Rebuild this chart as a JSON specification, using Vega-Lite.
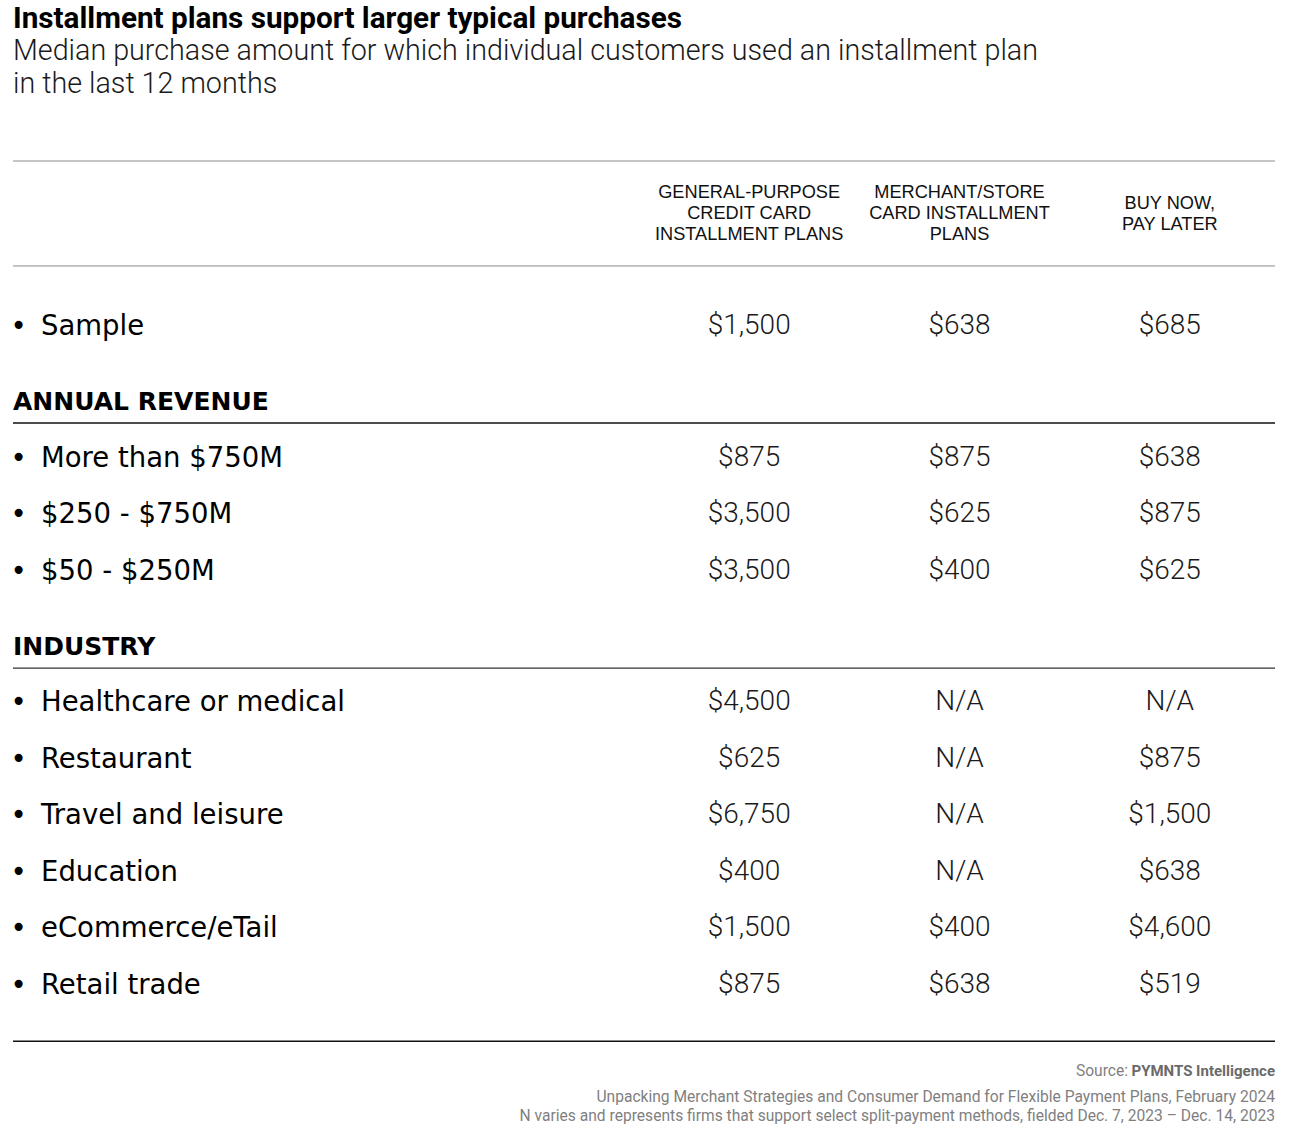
{
  "$schema": "https://vega.github.io/schema/vega-lite/v6.json",
  "autosize": "none",
  "width": 1262,
  "height": 960,
  "padding": {"left": 13, "right": 19, "top": 155.5, "bottom": 26.5},
  "background": "#ffffff",
  "title": {
    "text": "Installment plans support larger typical purchases",
    "subtitle": ["Median purchase amount for which individual customers used an installment plan", "in the last 12 months"],
    "anchor": "start",
    "frame": "group",
    "font": "Roboto",
    "fontSize": 29.7,
    "fontWeight": 700,
    "color": "#000000",
    "subtitleFont": "Roboto",
    "subtitleFontSize": 28.7,
    "subtitleFontWeight": 300,
    "subtitleColor": "#1a1a1a",
    "subtitleLineHeight": 33,
    "subtitlePadding": 2,
    "offset": 56
  },
  "datasets": {
    "values": [
      {"slot": "Sample", "plan": "General-purpose credit card installment plans", "amount": 1500},
      {"slot": "Sample", "plan": "Merchant/store card installment plans", "amount": 638},
      {"slot": "Sample", "plan": "Buy now, pay later", "amount": 685},
      {"slot": "More than $750M", "plan": "General-purpose credit card installment plans", "amount": 875},
      {"slot": "More than $750M", "plan": "Merchant/store card installment plans", "amount": 875},
      {"slot": "More than $750M", "plan": "Buy now, pay later", "amount": 638},
      {"slot": "$250 - $750M", "plan": "General-purpose credit card installment plans", "amount": 3500},
      {"slot": "$250 - $750M", "plan": "Merchant/store card installment plans", "amount": 625},
      {"slot": "$250 - $750M", "plan": "Buy now, pay later", "amount": 875},
      {"slot": "$50 - $250M", "plan": "General-purpose credit card installment plans", "amount": 3500},
      {"slot": "$50 - $250M", "plan": "Merchant/store card installment plans", "amount": 400},
      {"slot": "$50 - $250M", "plan": "Buy now, pay later", "amount": 625},
      {"slot": "Healthcare or medical", "plan": "General-purpose credit card installment plans", "amount": 4500},
      {"slot": "Healthcare or medical", "plan": "Merchant/store card installment plans", "amount": null},
      {"slot": "Healthcare or medical", "plan": "Buy now, pay later", "amount": null},
      {"slot": "Restaurant", "plan": "General-purpose credit card installment plans", "amount": 625},
      {"slot": "Restaurant", "plan": "Merchant/store card installment plans", "amount": null},
      {"slot": "Restaurant", "plan": "Buy now, pay later", "amount": 875},
      {"slot": "Travel and leisure", "plan": "General-purpose credit card installment plans", "amount": 6750},
      {"slot": "Travel and leisure", "plan": "Merchant/store card installment plans", "amount": null},
      {"slot": "Travel and leisure", "plan": "Buy now, pay later", "amount": 1500},
      {"slot": "Education", "plan": "General-purpose credit card installment plans", "amount": 400},
      {"slot": "Education", "plan": "Merchant/store card installment plans", "amount": null},
      {"slot": "Education", "plan": "Buy now, pay later", "amount": 638},
      {"slot": "eCommerce/eTail", "plan": "General-purpose credit card installment plans", "amount": 1500},
      {"slot": "eCommerce/eTail", "plan": "Merchant/store card installment plans", "amount": 400},
      {"slot": "eCommerce/eTail", "plan": "Buy now, pay later", "amount": 4600},
      {"slot": "Retail trade", "plan": "General-purpose credit card installment plans", "amount": 875},
      {"slot": "Retail trade", "plan": "Merchant/store card installment plans", "amount": 638},
      {"slot": "Retail trade", "plan": "Buy now, pay later", "amount": 519}
    ],
    "categories": [
      {"slot": "Sample"},
      {"slot": "More than $750M"},
      {"slot": "$250 - $750M"},
      {"slot": "$50 - $250M"},
      {"slot": "Healthcare or medical"},
      {"slot": "Restaurant"},
      {"slot": "Travel and leisure"},
      {"slot": "Education"},
      {"slot": "eCommerce/eTail"},
      {"slot": "Retail trade"}
    ],
    "sections": [
      {"slot": "ANNUAL REVENUE"},
      {"slot": "INDUSTRY"}
    ],
    "plans": [
      {"plan": "General-purpose credit card installment plans", "heading": ["GENERAL-PURPOSE", "CREDIT CARD", "INSTALLMENT PLANS"]},
      {"plan": "Merchant/store card installment plans", "heading": ["MERCHANT/STORE", "CARD INSTALLMENT", "PLANS"]},
      {"plan": "Buy now, pay later", "heading": ["BUY NOW,", "PAY LATER"]}
    ],
    "notes": [
      {"slot": "note1", "text": "Unpacking Merchant Strategies and Consumer Demand for Flexible Payment Plans, February 2024"},
      {"slot": "note2", "text": "N varies and represents firms that support select split-payment methods, fielded Dec. 7, 2023 \u2013 Dec. 14, 2023"}
    ],
    "source": [
      {"slot": "source", "prefix": "Source:", "name": "PYMNTS Intelligence"}
    ]
  },
  "layer": [
    {
      "data": {"name": "categories"},
      "mark": {"type": "text", "align": "left", "baseline": "middle", "dx": 28, "dy": 2, "font": "DejaVu Sans", "fontSize": 27.5, "color": "#000000"},
      "encoding": {
        "x": {"value": 0},
        "y": {
          "field": "slot", "type": "nominal", "axis": null,
          "scale": {
            "type": "point", "padding": 0,
            "domain": ["rule_top","_1","_2","header","_3","_4","rule_header","_5","_6","Sample","_7","_8","_9","ANNUAL REVENUE","rule_ANNUAL","_10","More than $750M","_11","_12","$250 - $750M","_13","_14","$50 - $250M","_15","_16","_17","INDUSTRY","rule_INDUSTRY","_18","Healthcare or medical","_19","_20","Restaurant","_21","_22","Travel and leisure","_23","_24","Education","_25","_26","eCommerce/eTail","_27","_28","Retail trade","_29","_30","rule_bottom","_31","source","note1","note2"]
          }
        },
        "text": {"field": "slot"}
      }
    },
    {
      "data": {"name": "categories"},
      "mark": {"type": "text", "align": "center", "baseline": "middle", "dx": 5.5, "dy": 2, "font": "DejaVu Sans", "fontSize": 27.5, "color": "#000000"},
      "encoding": {
        "x": {"value": 0},
        "y": {"field": "slot", "type": "nominal", "axis": null},
        "text": {"value": "\u2022"}
      }
    },
    {
      "data": {"name": "sections"},
      "mark": {"type": "text", "align": "left", "baseline": "middle", "dy": 2, "font": "DejaVu Sans", "fontWeight": "bold", "fontSize": 25, "color": "#000000"},
      "encoding": {
        "x": {"value": 0},
        "y": {"field": "slot", "type": "nominal", "axis": null},
        "text": {"field": "slot"}
      }
    },
    {
      "data": {"name": "values"},
      "mark": {"type": "text", "align": "center", "baseline": "middle", "dy": 1, "font": "Roboto", "fontWeight": 300, "fontSize": 28, "color": "#1a1a1a"},
      "encoding": {
        "x": {
          "field": "plan", "type": "nominal", "axis": null,
          "scale": {
            "type": "band", "paddingInner": 0, "paddingOuter": 0,
            "range": [{"expr": "width / 2"}, {"expr": "width"}],
            "domain": ["General-purpose credit card installment plans", "Merchant/store card installment plans", "Buy now, pay later"]
          }
        },
        "y": {"field": "slot", "type": "nominal", "axis": null},
        "text": {
          "condition": {"test": "datum.amount == null", "value": "N/A"},
          "field": "amount", "type": "quantitative", "format": "$,.0f"
        }
      }
    },
    {
      "data": {"name": "plans"},
      "transform": [{"filter": "length(datum.heading) == 3"}],
      "mark": {"type": "text", "align": "center", "baseline": "middle", "dy": -19, "font": "Liberation Sans", "fontSize": 18.2, "lineHeight": 21, "color": "#111111"},
      "encoding": {
        "x": {"field": "plan", "type": "nominal", "axis": null},
        "y": {"datum": "header", "type": "nominal", "axis": null},
        "text": {"field": "heading"}
      }
    },
    {
      "data": {"name": "plans"},
      "transform": [{"filter": "length(datum.heading) == 2"}],
      "mark": {"type": "text", "align": "center", "baseline": "middle", "dy": -8, "font": "Liberation Sans", "fontSize": 18.2, "lineHeight": 21, "color": "#111111"},
      "encoding": {
        "x": {"field": "plan", "type": "nominal", "axis": null},
        "y": {"datum": "header", "type": "nominal", "axis": null},
        "text": {"field": "heading"}
      }
    },
    {
      "data": {"values": [{}]},
      "mark": {"type": "rule", "color": "#8a8a8a", "strokeWidth": 1, "yOffset": 5.5},
      "encoding": {
        "x": {"value": 0}, "x2": {"value": "width"},
        "y": {"datum": "rule_top", "type": "nominal", "axis": null}
      }
    },
    {
      "data": {"values": [{}]},
      "mark": {"type": "rule", "color": "#8a8a8a", "strokeWidth": 1, "yOffset": -2.5},
      "encoding": {
        "x": {"value": 0}, "x2": {"value": "width"},
        "y": {"datum": "rule_header", "type": "nominal", "axis": null}
      }
    },
    {
      "data": {"values": [{}]},
      "mark": {"type": "rule", "color": "#111111", "strokeWidth": 1.5, "yOffset": 4},
      "encoding": {
        "x": {"value": 0}, "x2": {"value": "width"},
        "y": {"datum": "rule_ANNUAL", "type": "nominal", "axis": null}
      }
    },
    {
      "data": {"values": [{}]},
      "mark": {"type": "rule", "color": "#333333", "strokeWidth": 1.3, "yOffset": 4.3},
      "encoding": {
        "x": {"value": 0}, "x2": {"value": "width"},
        "y": {"datum": "rule_INDUSTRY", "type": "nominal", "axis": null}
      }
    },
    {
      "data": {"values": [{}]},
      "mark": {"type": "rule", "color": "#111111", "strokeWidth": 1.5, "yOffset": 1},
      "encoding": {
        "x": {"value": 0}, "x2": {"value": "width"},
        "y": {"datum": "rule_bottom", "type": "nominal", "axis": null}
      }
    },
    {
      "data": {"name": "notes"},
      "mark": {"type": "text", "align": "right", "baseline": "middle", "dy": 0.5, "font": "Roboto", "fontSize": 15.6, "color": "#7f7f7f"},
      "encoding": {
        "x": {"value": "width"},
        "y": {"field": "slot", "type": "nominal", "axis": null},
        "text": {"field": "text"}
      }
    },
    {
      "data": {"name": "source"},
      "mark": {"type": "text", "align": "right", "baseline": "middle", "dy": -7, "font": "Roboto", "fontWeight": "bold", "fontSize": 15, "color": "#6a6a6a"},
      "encoding": {
        "x": {"value": "width"},
        "y": {"field": "slot", "type": "nominal", "axis": null},
        "text": {"field": "name"}
      }
    },
    {
      "data": {"name": "source"},
      "mark": {"type": "text", "align": "right", "baseline": "middle", "dy": -7, "dx": -147, "font": "Roboto", "fontSize": 15.6, "color": "#7f7f7f"},
      "encoding": {
        "x": {"value": "width"},
        "y": {"field": "slot", "type": "nominal", "axis": null},
        "text": {"field": "prefix"}
      }
    }
  ],
  "config": {
    "view": {"stroke": null}
  }
}
